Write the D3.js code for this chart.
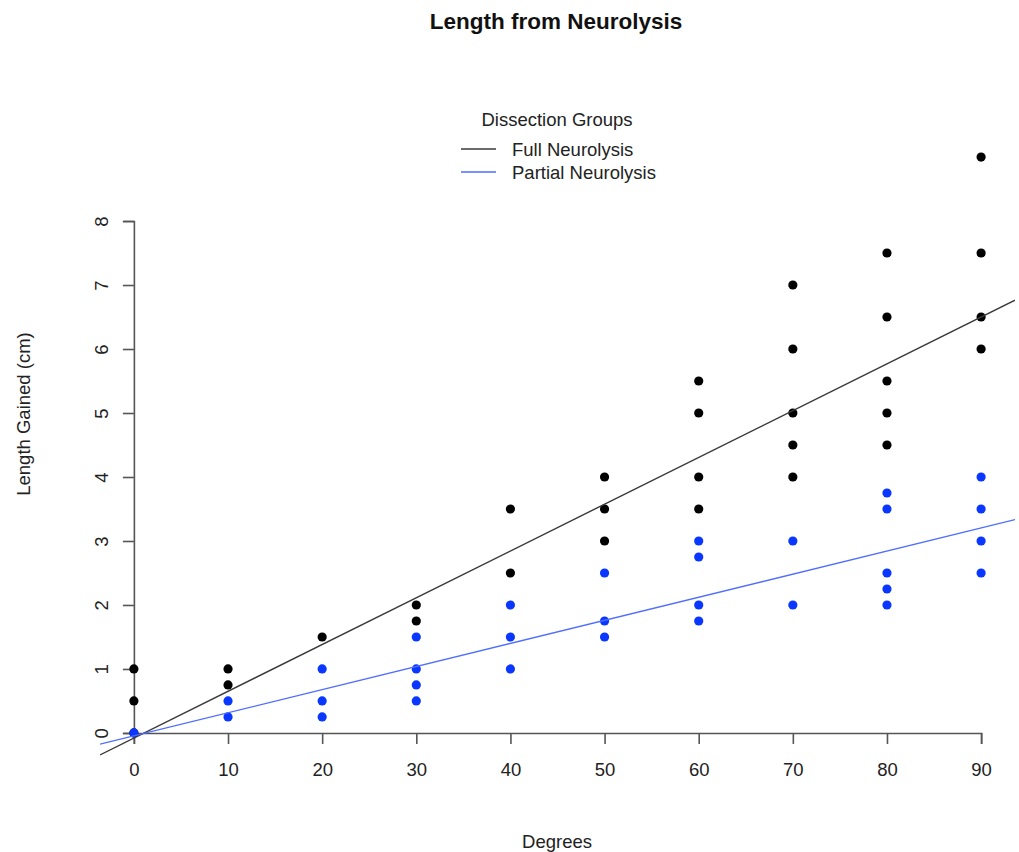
<!DOCTYPE html>
<html>
<head>
<meta charset="utf-8">
<script src="https://cdn.jsdelivr.net/npm/d3@7"></script>
<style>
  html, body { margin: 0; padding: 0; background: #fff; }
  svg { display: block; font-family: "Liberation Sans", Arial, Helvetica, sans-serif; }
</style>
</head>
<body>
<svg id="chart" width="1019" height="852"></svg>
<script>
// ---- data ----
const xTicks = [0, 10, 20, 30, 40, 50, 60, 70, 80, 90];
const yTicks = [0, 1, 2, 3, 4, 5, 6, 7, 8];

const fullDegrees = [0, 0, 0, 10, 10, 20, 30, 30, 40, 40, 50, 50, 50,
  60, 60, 60, 60, 70, 70, 70, 70, 70, 80, 80, 80, 80, 80, 90, 90, 90, 90];
const fullLength = [1, 0.5, 0, 1, 0.75, 1.5, 2, 1.75, 3.5, 2.5, 4, 3.5, 3,
  5.5, 5, 4, 3.5, 7, 6, 5, 4.5, 4, 7.5, 6.5, 5.5, 5, 4.5, 9, 7.5, 6.5, 6];

const partialDegrees = [0, 10, 10, 20, 20, 20, 30, 30, 30, 30, 40, 40, 40,
  50, 50, 50, 60, 60, 60, 60, 70, 70, 80, 80, 80, 80, 80, 90, 90, 90, 90];
const partialLength = [0, 0.5, 0.25, 1, 0.5, 0.25, 1.5, 1, 0.75, 0.5, 2, 1.5, 1,
  2.5, 1.75, 1.5, 3, 2.75, 2, 1.75, 3, 2, 3.75, 3.5, 2.5, 2.25, 2, 4, 3.5, 3, 2.5];

// fitted regression lines (intercept, slope)
const seriesNames = ["Full Neurolysis", "Partial Neurolysis"];
const fitIntercept = [-0.08, -0.045];
const fitSlope = [0.0731, 0.0361];

// ---- layout ----
const svg = d3.select("#chart");
const font = 18.5;
const x = d3.scaleLinear().domain([-3.6, 93.6]).range([100, 1015]);
const y = d3.scaleLinear().domain([-0.36, 9.36]).range([756, 134]);

const ptColor = ["#000000", "#0a37ff"];
const lineColor = ["#3a3a3a", "#4f6dff"];
const axisColor = "#555";

// clip for plot region
svg.append("defs").append("clipPath").attr("id", "plotclip")
  .append("rect").attr("x", x.range()[0]).attr("y", y.range()[1])
  .attr("width", x.range()[1] - x.range()[0]).attr("height", y.range()[0] - y.range()[1]);

// title
svg.append("text").attr("x", 556).attr("y", 29).attr("text-anchor", "middle")
  .attr("font-weight", "bold").attr("font-size", 22.5).attr("fill", "#111")
  .text("Length from Neurolysis");

// axes (drawn at the origin)
const xAxisScale = x.copy().domain([0, 90]).range([x(0), x(90)]);
const gx = svg.append("g").attr("transform", `translate(0,${y(0)})`)
  .call(d3.axisBottom(xAxisScale).tickValues(xTicks).tickSize(11).tickSizeOuter(11));
gx.selectAll("path, line").attr("stroke", axisColor).attr("stroke-width", 1.6);
gx.selectAll("text").attr("y", 43).attr("dy", 0).attr("font-size", font)
  .attr("fill", "#222").attr("font-family", "Liberation Sans, Arial, sans-serif");

const yAxisScale = y.copy().domain([0, 8]).range([y(0), y(8)]);
const gy = svg.append("g").attr("transform", `translate(${x(0)},0)`)
  .call(d3.axisLeft(yAxisScale).tickValues(yTicks).tickSize(11).tickSizeOuter(11));
gy.selectAll("path, line").attr("stroke", axisColor).attr("stroke-width", 1.6);
gy.selectAll("text").attr("transform", "rotate(-90)")
  .attr("x", 0).attr("y", -26).attr("dy", 0).attr("text-anchor", "middle")
  .attr("font-size", font).attr("fill", "#222")
  .attr("font-family", "Liberation Sans, Arial, sans-serif");

// axis titles
svg.append("text").attr("x", 557).attr("y", 848).attr("text-anchor", "middle")
  .attr("font-size", font).attr("fill", "#222").text("Degrees");
svg.append("text").attr("transform", "translate(30,414) rotate(-90)")
  .attr("text-anchor", "middle").attr("font-size", font).attr("fill", "#222")
  .text("Length Gained (cm)");

// points
const plot = svg.append("g");
const fullData = fullDegrees.map((d, i) => [d, fullLength[i]]);
const partialData = partialDegrees.map((d, i) => [d, partialLength[i]]);
[fullData, partialData].forEach((data, k) => {
  plot.append("g").selectAll("circle").data(data).join("circle")
    .attr("cx", d => x(d[0])).attr("cy", d => y(d[1])).attr("r", 4.6)
    .attr("fill", ptColor[k]);
});

// regression lines
const lines = svg.append("g").attr("clip-path", "url(#plotclip)");
const xd = x.domain();
seriesNames.forEach((name, k) => {
  const pts = xd.map(v => [v, fitIntercept[k] + fitSlope[k] * v]);
  lines.append("path").attr("d", d3.line().x(d => x(d[0])).y(d => y(d[1]))(pts))
    .attr("fill", "none").attr("stroke", lineColor[k]).attr("stroke-width", 1.4);
});

// legend
const lg = svg.append("g");
lg.append("text").attr("x", 557).attr("y", 126).attr("text-anchor", "middle")
  .attr("font-size", font).attr("fill", "#222").text("Dissection Groups");
seriesNames.forEach((name, k) => {
  const yy = 149 + k * 23;
  lg.append("line").attr("x1", 461).attr("x2", 496).attr("y1", yy).attr("y2", yy)
    .attr("stroke", lineColor[k]).attr("stroke-width", 1.4);
  lg.append("text").attr("x", 512).attr("y", yy + 6.5).attr("font-size", font)
    .attr("fill", "#222").text(name);
});
</script>
</body>
</html>
